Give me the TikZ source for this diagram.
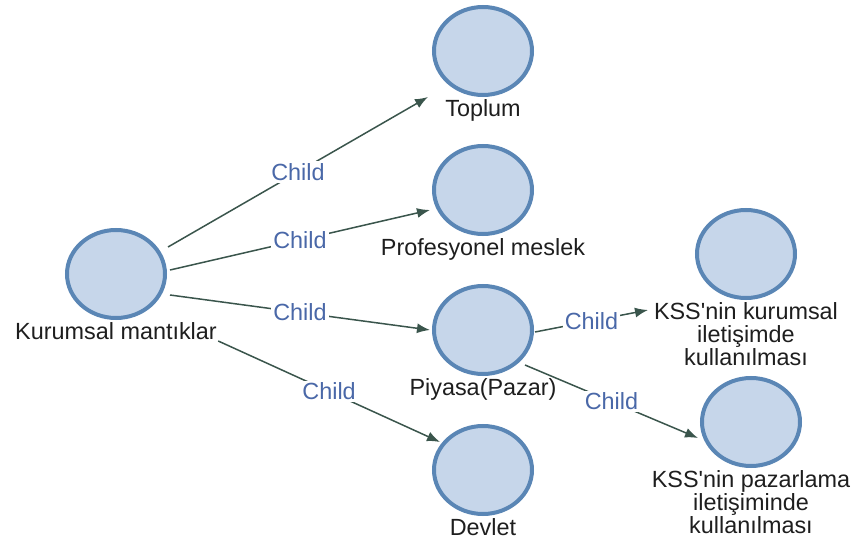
\documentclass[tikz,border=0pt]{standalone}
\usepackage{fontspec}
\setmainfont{Liberation Sans}
\usetikzlibrary{positioning,arrows.meta,calc,shapes.geometric}

\definecolor{circfill}{HTML}{C6D6EA}
\definecolor{circline}{HTML}{5A86B5}
\definecolor{edgecol}{HTML}{3A554C}
\definecolor{childcol}{HTML}{4A68A8}
\definecolor{txtcol}{HTML}{1E1E1E}

\begin{document}
\begin{tikzpicture}[
    x=0.5pt, y=-0.5pt,
    every node/.style={font=\fontsize{11.7}{11.5}\selectfont},
    circ/.style={ellipse, draw=circline, fill=circfill, line width=2pt,
                 minimum width=49pt, minimum height=44pt, inner sep=0pt},
    lbl/.style={text=txtcol, align=center, inner sep=0.5pt},
    rel/.style={draw=edgecol, line width=0.75pt, -{Latex[length=6.5pt,width=5pt]}},
    child/.style={text=childcol, fill=white, inner sep=1pt}
]
  \useasboundingbox (0,0) rectangle (859,546);

  % circles
  \node[circ] (km)     at (116,274) {};
  \node[circ] (toplum) at (483,51)  {};
  \node[circ] (prof)   at (483,190) {};
  \node[circ] (piyasa) at (483,330) {};
  \node[circ] (devlet) at (483,470) {};
  \node[circ] (kssk)   at (746,254) {};
  \node[circ] (kssp)   at (751,422) {};

  % labels under the circles
  \node[lbl, below=0.5pt of km]     (km-l)     {Kurumsal mantıklar};
  \node[lbl, below=0.5pt of toplum] (toplum-l) {Toplum};
  \node[lbl, below=0.5pt of prof]   (prof-l)   {Profesyonel meslek};
  \node[lbl, below=0.5pt of piyasa] (piyasa-l) {Piyasa(Pazar)};
  \node[lbl, below=0.5pt of devlet] (devlet-l) {Devlet};
  \node[lbl, below=0.5pt of kssk]   (kssk-l)   {KSS\textquotesingle nin kurumsal\\iletişimde\\kullanılması};
  \node[lbl, below=0.5pt of kssp]   (kssp-l)   {KSS\textquotesingle nin pazarlama\\iletişiminde\\kullanılması};

  % relations
  \draw[rel] ($(km)+(52,-27)$) -- node[child] {Child} ($(toplum)+(-55,46)$);
  \draw[rel] ($(km)+(54,-4)$)  -- node[child] {Child} ($(prof)+(-53,20)$);
  \draw[rel] ($(km)+(54,21)$)  -- node[child] {Child} ($(piyasa)+(-53,0)$);
  \draw[rel] (km-l.south east) -- node[child] {Child} ($(devlet)+(-43,-28)$);
  \draw[rel] ($(piyasa)+(52,2)$)  -- node[child] {Child} ($(kssk)+(-98,56)$);
  \draw[rel] ($(piyasa)+(42,35)$) -- node[child] {Child} ($(kssp)+(-53,16)$);
\end{tikzpicture}
\end{document}
